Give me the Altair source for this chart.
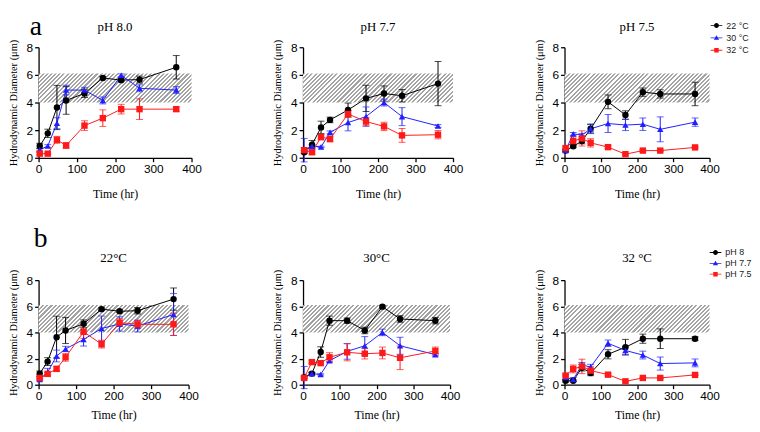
import altair as alt
import pandas as pd

# ---------------- data ----------------
times = [3, 24, 48, 72, 120, 168, 216, 264, 360]

# pH 8.0
d_ph80_t22 = [0.85, 1.77, 3.64, 4.15, 4.66, 5.78, 5.62, 5.66, 6.55]
e_ph80_t22 = [0.2, 0.3, 1.6, 1.0, 0.3, 0.1, 0.1, 0.25, 0.85]
d_ph80_t30 = [0.58, 0.85, 2.5, 4.9, 4.9, 4.15, 5.97, 5.03, 4.9]
e_ph80_t30 = [0.1, 0.1, 0.4, 0.35, 0.2, 0.25, 0.1, 0.25, 0.25]
d_ph80_t32 = [0.3, 0.3, 1.3, 0.89, 2.33, 2.87, 3.52, 3.52, 3.52]
e_ph80_t32 = [0.1, 0.05, 0.25, 0.2, 0.35, 0.6, 0.35, 0.75, 0.15]
# pH 7.7
d_ph77_t22 = [0.4, 0.95, 2.2, 2.74, 3.46, 4.3, 4.65, 4.49, 5.37]
e_ph77_t22 = [0.1, 0.3, 0.45, 0.2, 0.5, 0.95, 0.55, 0.45, 1.6]
d_ph77_t30 = [0.55, 0.84, 0.79, 1.84, 2.55, 2.98, 4.0, 2.98, 2.3]
e_ph77_t30 = [0.85, 0.1, 0.05, 0.1, 0.6, 0.7, 0.25, 0.65, 0.1]
d_ph77_t32 = [0.55, 0.4, 1.5, 1.36, 3.17, 2.62, 2.27, 1.62, 1.67]
e_ph77_t32 = [0.2, 0.15, 0.2, 0.2, 0.25, 0.3, 0.3, 0.5, 0.3]
# pH 7.5
d_ph75_t22 = [0.52, 0.83, 1.21, 2.1, 4.05, 3.1, 4.75, 4.62, 4.62]
e_ph75_t22 = [0.1, 0.1, 0.2, 0.3, 0.5, 0.3, 0.3, 0.3, 0.85]
d_ph75_t30 = [0.52, 1.73, 1.65, 2.1, 2.48, 2.37, 2.43, 2.06, 2.58]
e_ph75_t30 = [0.1, 0.1, 0.1, 0.35, 0.65, 0.4, 0.45, 0.9, 0.3]
d_ph75_t32 = [0.7, 1.21, 1.4, 1.08, 0.77, 0.26, 0.52, 0.52, 0.75]
e_ph75_t32 = [0.1, 0.3, 0.55, 0.3, 0.1, 0.05, 0.05, 0.05, 0.05]

ph_titles = ["pH 8.0", "pH 7.7", "pH 7.5"]
ph_legend = ["pH 8", "pH 7.7", "pH 7.5"]
temp_titles = ["22°C", "30°C", "32 °C"]
temp_legend = ["22 °C", "30 °C", "32 °C"]

band_low = 4.0
band_high = 6.1
x_ticks = [0, 100, 200, 300, 400]
y_ticks = [0, 2, 4, 6, 8]

series = [
    (0, 0, d_ph80_t22, e_ph80_t22), (0, 1, d_ph80_t30, e_ph80_t30), (0, 2, d_ph80_t32, e_ph80_t32),
    (1, 0, d_ph77_t22, e_ph77_t22), (1, 1, d_ph77_t30, e_ph77_t30), (1, 2, d_ph77_t32, e_ph77_t32),
    (2, 0, d_ph75_t22, e_ph75_t22), (2, 1, d_ph75_t30, e_ph75_t30), (2, 2, d_ph75_t32, e_ph75_t32),
]
rows = []
for pi, ti, d, e in series:
    for t, m, s in zip(times, d, e):
        rows.append(dict(time=t, ph=ph_legend[pi], temp=temp_legend[ti], pi=pi, ti=ti,
                         mean=m, lo=m - s, hi=m + s))
df = pd.DataFrame(rows)

colors = ["#000000", "#1f1fff", "#ff1a1a"]
shapes = ["circle", "triangle-up", "square"]
legend_paths = [
    "M-1,-0.07L1,-0.07L1,0.07L-1,0.07Z M-0.42,0A0.42,0.42 0 1,1 0.42,0A0.42,0.42 0 1,1 -0.42,0Z",
    "M-1,-0.07L1,-0.07L1,0.07L-1,0.07Z M0,-0.45L0.45,0.33L-0.45,0.33Z",
    "M-1,-0.07L1,-0.07L1,0.07L-1,0.07Z M-0.38,-0.38L0.38,-0.38L0.38,0.38L-0.38,0.38Z",
]

SERIF = "Liberation Serif"
SANS = "Liberation Sans"


def hatch(w, h, period=4.2, dark="#a4a4a4"):
    r = h / w
    a = (1 + r) / (1 + r * r)
    n = int(round((w + h) / period))
    stops = []
    for k in range(n):
        o0, o1, o2 = k / n, (k + 0.5) / n, (k + 1) / n
        stops += [
            {"offset": o0, "color": dark}, {"offset": o1, "color": dark},
            {"offset": o1, "color": "#ffffff"}, {"offset": o2, "color": "#ffffff"},
        ]
    return {"gradient": "linear", "x1": 0, "y1": 0, "x2": a, "y2": a * r, "stops": stops}


def panel(data, field, domain, title, w, h, title_y, x_title_pad, legend_xy=None, row_pad=1.5,
          tag=None, tag_xy=None):
    xs = alt.Scale(domain=[0, 400], nice=False, padding=0)
    ys = alt.Scale(domain=[0, 8], nice=False, padding=0)
    xa = alt.Axis(values=x_ticks, title="Time (hr)", titleFontSize=12, titlePadding=x_title_pad,
                  labelFlush=False)
    ya = alt.Axis(values=y_ticks, title="Hydrodynamic Diameter (μm)", titleFontSize=10.5, titlePadding=8,
                  labelFlush=False)

    def X(f):
        return alt.X(f, type="quantitative", scale=xs, axis=xa)

    def Y(f):
        return alt.Y(f, type="quantitative", scale=ys, axis=ya)

    cscale = alt.Scale(domain=domain, range=colors)
    col = alt.Color(f"{field}:N", scale=cscale, legend=None)
    shp = alt.Shape(f"{field}:N", scale=alt.Scale(domain=domain, range=shapes), legend=None)

    band_df = pd.DataFrame({"x0": [0], "x1": [400], "y0": [band_low], "y1": [band_high]})
    bh = (band_high - band_low) / 8 * h
    band = alt.Chart(band_df).mark_rect(fill=hatch(w, bh), strokeWidth=0).encode(
        x=X("x0"), x2="x1", y=Y("y0"), y2="y1")

    base = alt.Chart(data)
    line = base.mark_line(strokeWidth=1).encode(x=X("time"), y=Y("mean"), color=col)
    err = base.mark_rule(strokeWidth=1).encode(x=X("time"), y=Y("lo"), y2="hi", color=col)
    cap_lo = base.mark_tick(thickness=1, size=7, orient="horizontal").encode(x=X("time"), y=Y("lo"), color=col)
    cap_hi = base.mark_tick(thickness=1, size=7, orient="horizontal").encode(x=X("time"), y=Y("hi"), color=col)
    pts = base.mark_point(filled=True, opacity=1, size=42).encode(x=X("time"), y=Y("mean"), color=col, shape=shp)

    ttl = alt.Chart(pd.DataFrame({"t": [title]})).mark_text(
        font=SERIF, fontSize=13, align="center", baseline="middle", color="#000000").encode(
        text="t:N", x=alt.value(w / 2), y=alt.value(title_y))

    layers = [band, line, err, cap_lo, cap_hi, pts, ttl]

    if legend_xy is not None:
        lg = alt.Legend(orient="none", legendX=legend_xy[0], legendY=legend_xy[1], title=None,
                        labelFont=SANS, labelFontSize=9, labelColor="#222222", symbolSize=140,
                        symbolStrokeWidth=0, rowPadding=row_pad, labelOffset=4, padding=0)
        leg = alt.Chart(data).transform_filter("false").mark_point(filled=True, opacity=1).encode(
            color=alt.Color(f"{field}:N", scale=cscale, legend=lg),
            shape=alt.Shape(f"{field}:N", scale=alt.Scale(domain=domain, range=legend_paths), legend=lg),
        )
        layers.append(leg)

    if tag is not None:
        tdf = pd.DataFrame({"t": [tag]})
        layers.append(alt.Chart(tdf).mark_text(font=SERIF, fontSize=28, align="left",
                                               baseline="alphabetic", color="#000000").encode(
            text="t:N", x=alt.value(tag_xy[0]), y=alt.value(tag_xy[1])))

    return alt.layer(*layers).resolve_scale(color="independent", shape="independent").properties(
        width=w, height=h)


H1, H2 = 112, 106
W1 = [155, 152, 147]
W2 = [152, 149, 147]

p = []
for i in range(3):
    sub = df[df.pi == i]
    p.append(panel(sub, "temp", temp_legend, ph_titles[i], W1[i], H1, -20, 14,
                   legend_xy=(148, -28) if i == 2 else None, row_pad=1.5,
                   tag="a" if i == 0 else None, tag_xy=(-9, -12)))
q = []
for i in range(3):
    sub = df[df.ti == i]
    q.append(panel(sub, "ph", ph_legend, temp_titles[i], W2[i], H2, -22, 8,
                   legend_xy=(147, -34) if i == 2 else None, row_pad=0,
                   tag="b" if i == 0 else None, tag_xy=(-5, -34)))

row1 = alt.hconcat(*p, spacing=113, bounds="flush").resolve_scale(color="independent", shape="independent")
row2 = alt.hconcat(*q, spacing=116, bounds="flush").resolve_scale(color="independent", shape="independent")

chart = alt.vconcat(row1, row2, spacing=26).resolve_scale(
    color="independent", shape="independent"
).properties(padding={"top": 3, "left": 0, "right": 0, "bottom": 0}).configure_view(
    strokeWidth=0
).configure_axis(
    grid=False, domainColor="#000000", domainWidth=1.3, tickColor="#000000", tickWidth=1.3, tickSize=4,
    labelFont=SANS, labelFontSize=12, labelColor="#000000", labelPadding=2,
    titleFont=SERIF, titleFontWeight="normal", titleColor="#000000",
)

chart.save("out.html", embed_options={"renderer": "svg", "actions": False})
